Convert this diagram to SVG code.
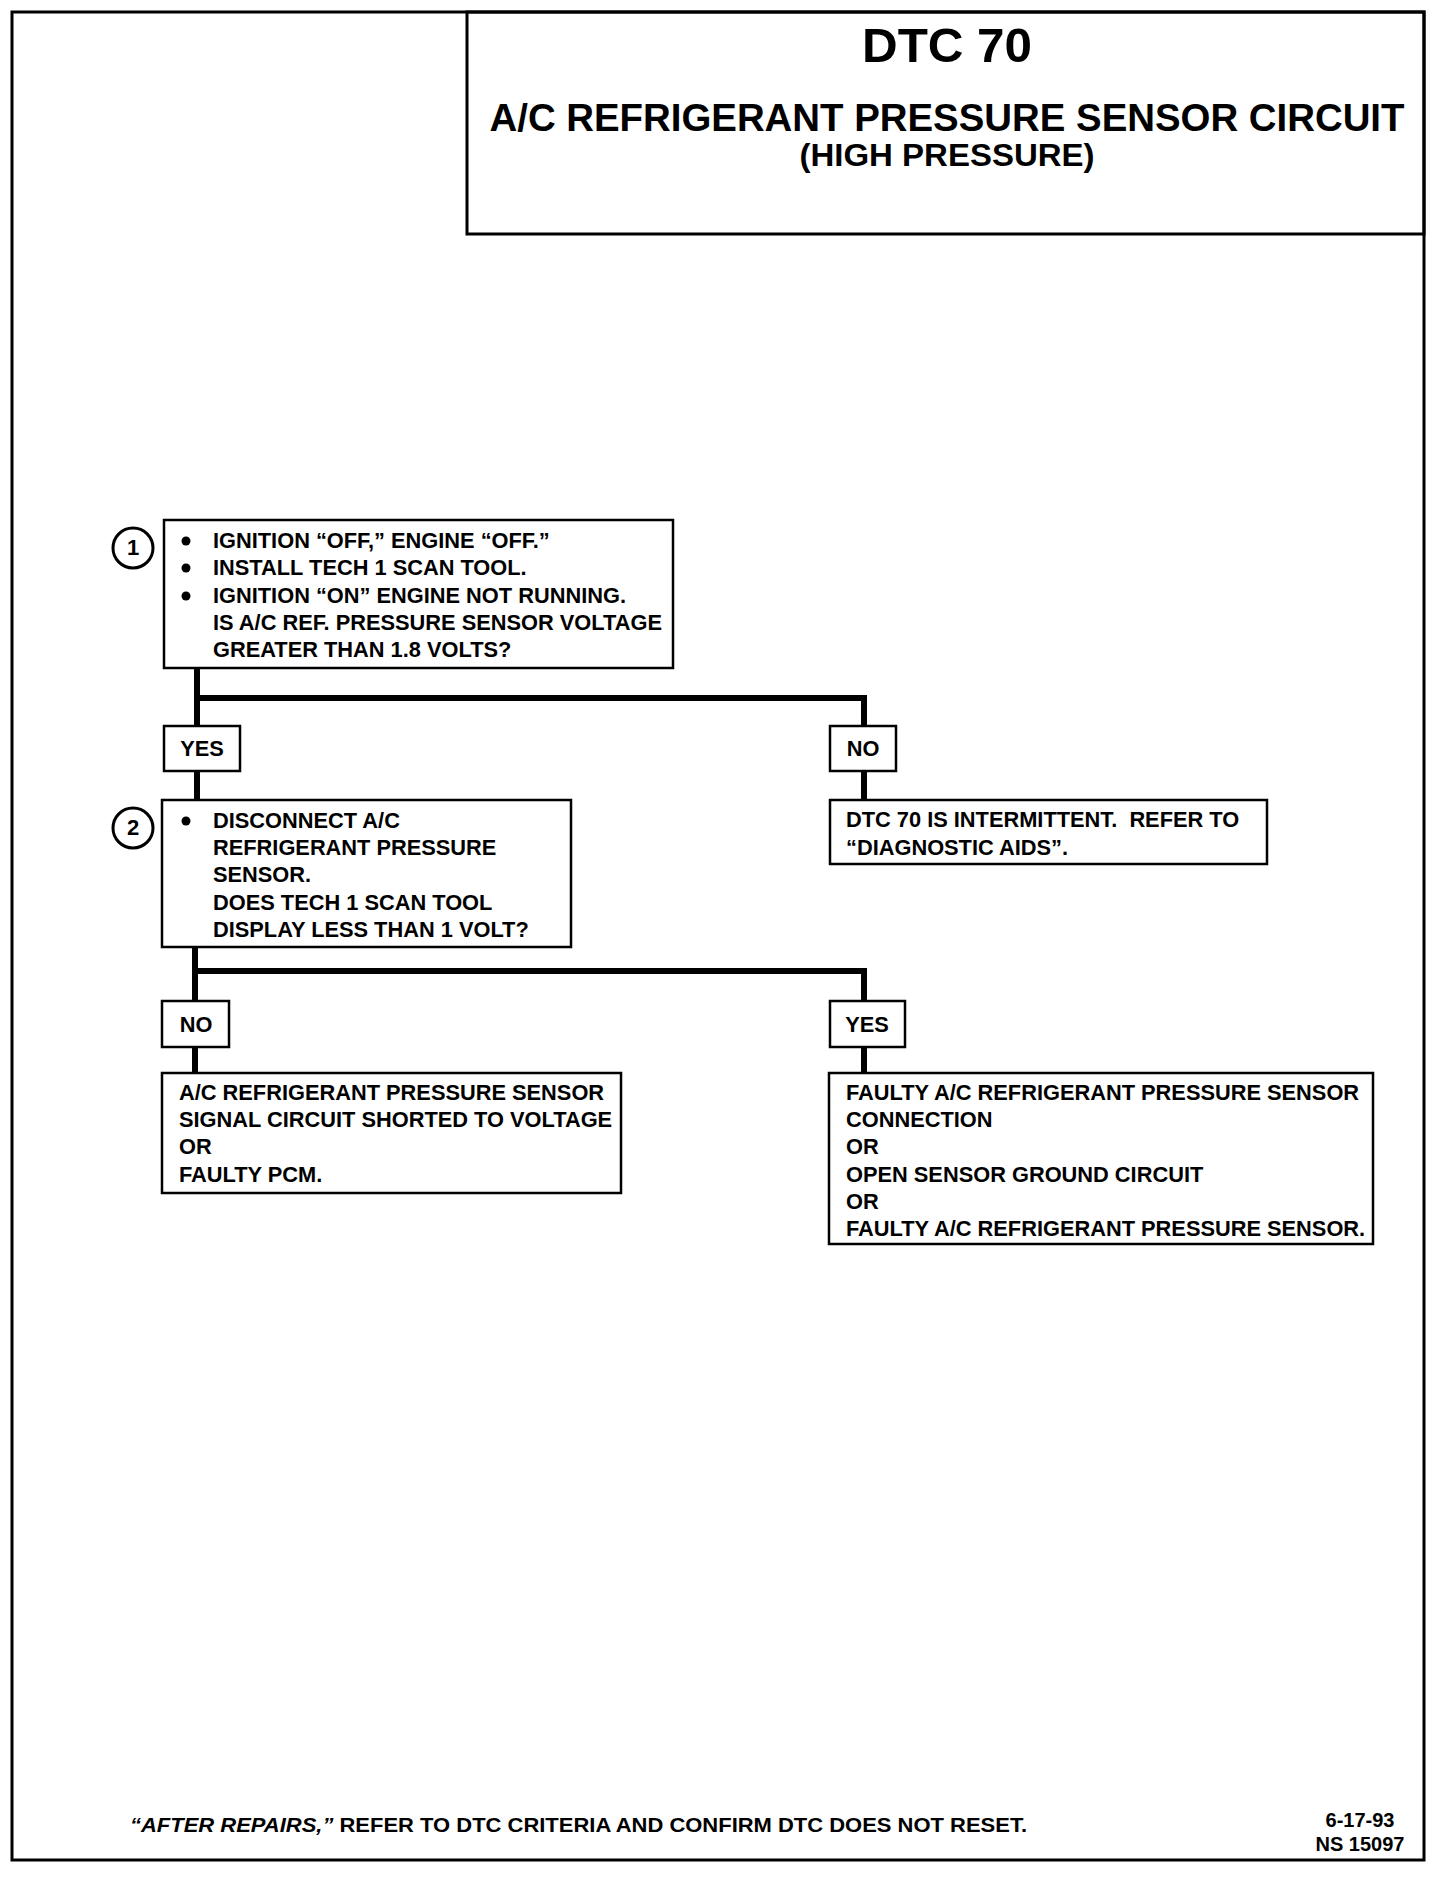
<svg xmlns="http://www.w3.org/2000/svg" width="1440" height="1894" viewBox="0 0 1440 1894">
<style>
text{font-family:"Liberation Sans",Arial,sans-serif;font-weight:bold;fill:#000}
.t{font-size:21.8px}
.box{fill:#fff;stroke:#000;stroke-width:2.5}
.conn{fill:none;stroke:#000;stroke-width:6;stroke-linecap:butt}
.frame{fill:none;stroke:#000;stroke-width:3}
.num{fill:#fff;stroke:#000;stroke-width:3}
.c{text-anchor:middle}
</style>
<rect width="1440" height="1894" fill="#fff"/>
<rect class="frame" x="12" y="12" width="1412" height="1848"/>
<g id="title">
<rect class="frame" x="467" y="12" width="957" height="222"/>
<text class="c" x="947" y="62" font-size="48" textLength="170" lengthAdjust="spacingAndGlyphs">DTC 70</text>
<text class="c" x="947" y="131" font-size="39" textLength="915" lengthAdjust="spacingAndGlyphs">A/C REFRIGERANT PRESSURE SENSOR CIRCUIT</text>
<text class="c" x="947" y="166" font-size="31" textLength="295" lengthAdjust="spacingAndGlyphs">(HIGH PRESSURE)</text>
</g>
<g id="connectors">
<path class="conn" d="M197,668 V800 M197,698 H864 V726 M864,771 V800"/>
<path class="conn" d="M195,947 V1073 M195,971 H864 V1073"/>
</g>
<g id="step1">
<circle class="num" cx="133" cy="548" r="20"/>
<text class="c" x="133" y="555" font-size="22">1</text>
<rect class="box" x="164" y="520" width="509" height="148"/>
<circle cx="186" cy="541" r="4.5"/><circle cx="186" cy="568" r="4.5"/><circle cx="186" cy="596" r="4.5"/>
<text class="t" x="213" y="548">IGNITION “OFF,” ENGINE “OFF.”</text>
<text class="t" x="213" y="575">INSTALL TECH 1 SCAN TOOL.</text>
<text class="t" x="213" y="603">IGNITION “ON” ENGINE NOT RUNNING.</text>
<text class="t" x="213" y="630">IS A/C REF. PRESSURE SENSOR VOLTAGE</text>
<text class="t" x="213" y="657">GREATER THAN 1.8 VOLTS?</text>
</g>
<g id="yes1">
<rect class="box" x="164" y="726" width="76" height="45"/>
<text class="t c" x="202" y="756">YES</text>
</g>
<g id="no1">
<rect class="box" x="830" y="726" width="66" height="45"/>
<text class="t c" x="863" y="756">NO</text>
</g>
<g id="intermittent">
<rect class="box" x="830" y="800" width="437" height="64"/>
<text class="t" x="846" y="827">DTC 70 IS INTERMITTENT.&#160; REFER TO</text>
<text class="t" x="846" y="855">“DIAGNOSTIC AIDS”.</text>
</g>
<g id="step2">
<circle class="num" cx="133" cy="828" r="20"/>
<text class="c" x="133" y="835" font-size="22">2</text>
<rect class="box" x="162" y="800" width="409" height="147"/>
<circle cx="186" cy="821" r="4.5"/>
<text class="t" x="213" y="828">DISCONNECT A/C</text>
<text class="t" x="213" y="855">REFRIGERANT PRESSURE</text>
<text class="t" x="213" y="882">SENSOR.</text>
<text class="t" x="213" y="910">DOES TECH 1 SCAN TOOL</text>
<text class="t" x="213" y="937">DISPLAY LESS THAN 1 VOLT?</text>
</g>
<g id="no2">
<rect class="box" x="162" y="1001" width="67" height="46"/>
<text class="t c" x="196" y="1032">NO</text>
</g>
<g id="yes2">
<rect class="box" x="830" y="1001" width="75" height="46"/>
<text class="t c" x="867" y="1032">YES</text>
</g>
<g id="result-no">
<rect class="box" x="162" y="1073" width="459" height="120"/>
<text class="t" x="179" y="1100">A/C REFRIGERANT PRESSURE SENSOR</text>
<text class="t" x="179" y="1127">SIGNAL CIRCUIT SHORTED TO VOLTAGE</text>
<text class="t" x="179" y="1154">OR</text>
<text class="t" x="179" y="1182">FAULTY PCM.</text>
</g>
<g id="result-yes">
<rect class="box" x="829" y="1073" width="544" height="171"/>
<text class="t" x="846" y="1100">FAULTY A/C REFRIGERANT PRESSURE SENSOR</text>
<text class="t" x="846" y="1127">CONNECTION</text>
<text class="t" x="846" y="1154">OR</text>
<text class="t" x="846" y="1182">OPEN SENSOR GROUND CIRCUIT</text>
<text class="t" x="846" y="1209">OR</text>
<text class="t" x="846" y="1236">FAULTY A/C REFRIGERANT PRESSURE SENSOR.</text>
</g>
<g id="footer">
<text x="130" y="1832" font-size="21" textLength="897" lengthAdjust="spacingAndGlyphs"><tspan font-style="italic">“AFTER REPAIRS,”</tspan> REFER TO DTC CRITERIA AND CONFIRM DTC DOES NOT RESET.</text>
<text class="c" x="1360" y="1827" font-size="20">6-17-93</text>
<text class="c" x="1360" y="1851" font-size="20">NS 15097</text>
</g>
</svg>
